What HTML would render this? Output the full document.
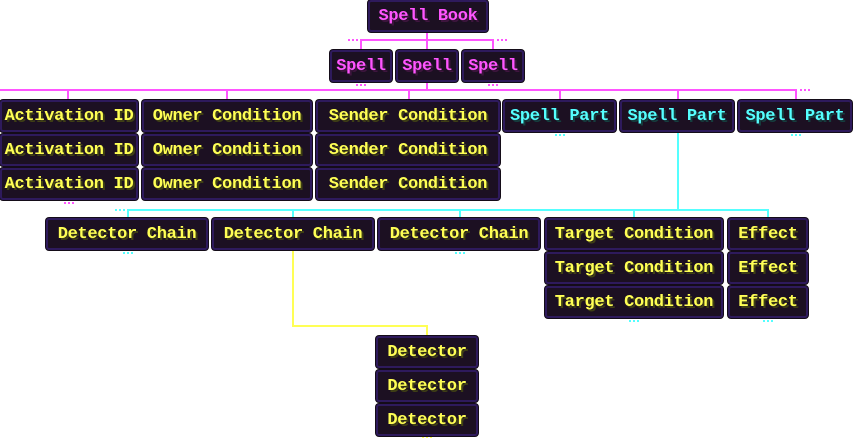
<!DOCTYPE html>
<html><head><meta charset="utf-8"><style>
body{margin:0;width:854px;height:440px;background:#fff;position:relative;overflow:hidden;font-family:"Liberation Mono","DejaVu Sans Mono",monospace;}
.b{position:absolute;box-sizing:border-box;background:#1c1022;border:2px solid #2e1a5c;border-radius:3px;box-shadow:0 0 0 1px #140c18;display:flex;align-items:center;justify-content:center;font-size:17px;font-weight:bold;white-space:nowrap;letter-spacing:-0.3px}
.m{color:#ff55ff;text-shadow:2px 2px 0 #3f153f}
.c{color:#55ffff;text-shadow:2px 2px 0 #153f3f}
.y{color:#ffff55;text-shadow:2px 2px 0 #3f3f15}
.l{position:absolute}
.lm{background:#ff55ff}.lc{background:#55ffff}.ly{background:#ffff55}
.d{position:absolute;height:2px;width:10px;background-image:linear-gradient(90deg,currentColor 0 2px,transparent 2px 4px);background-size:4px 2px}
</style></head><body>
<!-- magenta lines -->
<div class="l lm" style="left:426px;top:32px;width:2px;height:18px"></div>
<div class="l lm" style="left:360px;top:39px;width:134px;height:2px"></div>
<div class="l lm" style="left:360px;top:39px;width:2px;height:11px"></div>
<div class="l lm" style="left:492px;top:39px;width:2px;height:11px"></div>
<div class="d" style="color:#ff55ff;left:348px;top:39px"></div>
<div class="d" style="color:#ff55ff;left:497px;top:39px"></div>
<div class="d" style="color:#ff55ff;left:356px;top:84px"></div>
<div class="d" style="color:#ff55ff;left:488px;top:84px"></div>
<div class="l lm" style="left:426px;top:82px;width:2px;height:8px"></div>
<div class="l lm" style="left:0px;top:89px;width:796px;height:2px"></div>
<div class="d" style="color:#ff55ff;left:800px;top:89px"></div>
<div class="l lm" style="left:67px;top:89px;width:2px;height:11px"></div>
<div class="l lm" style="left:226px;top:89px;width:2px;height:11px"></div>
<div class="l lm" style="left:408px;top:89px;width:2px;height:11px"></div>
<div class="l lm" style="left:559px;top:89px;width:2px;height:11px"></div>
<div class="l lm" style="left:677px;top:89px;width:2px;height:11px"></div>
<div class="l lm" style="left:795px;top:89px;width:2px;height:11px"></div>
<div class="d" style="color:#ff55ff;left:64px;top:202px"></div>
<!-- cyan -->
<div class="d" style="color:#55ffff;left:555px;top:134px"></div>
<div class="d" style="color:#55ffff;left:791px;top:134px"></div>
<div class="l lc" style="left:677px;top:132px;width:2px;height:78px"></div>
<div class="l lc" style="left:127px;top:209px;width:642px;height:2px"></div>
<div class="d" style="color:#55ffff;left:115px;top:209px"></div>
<div class="l lc" style="left:127px;top:209px;width:2px;height:11px"></div>
<div class="l lc" style="left:292px;top:209px;width:2px;height:11px"></div>
<div class="l lc" style="left:459px;top:209px;width:2px;height:11px"></div>
<div class="l lc" style="left:633px;top:209px;width:2px;height:11px"></div>
<div class="l lc" style="left:767px;top:209px;width:2px;height:11px"></div>
<div class="d" style="color:#55ffff;left:123px;top:252px"></div>
<div class="d" style="color:#55ffff;left:455px;top:252px"></div>
<div class="d" style="color:#55ffff;left:629px;top:320px"></div>
<div class="d" style="color:#55ffff;left:763px;top:320px"></div>
<!-- yellow -->
<div class="l ly" style="left:292px;top:250px;width:2px;height:77px"></div>
<div class="l ly" style="left:292px;top:325px;width:136px;height:2px"></div>
<div class="l ly" style="left:426px;top:325px;width:2px;height:11px"></div>
<div class="d" style="color:#ffff55;left:422px;top:436px"></div>

<div class="b m" style="left:368px;top:0;width:120px;height:32px">Spell Book</div>
<div class="b m" style="left:330px;top:50px;width:62px;height:32px">Spell</div>
<div class="b m" style="left:396px;top:50px;width:62px;height:32px">Spell</div>
<div class="b m" style="left:462px;top:50px;width:62px;height:32px">Spell</div>

<div class="b y" style="left:0;top:100px;width:138px;height:32px">Activation ID</div>
<div class="b y" style="left:0;top:134px;width:138px;height:32px">Activation ID</div>
<div class="b y" style="left:0;top:168px;width:138px;height:32px">Activation ID</div>
<div class="b y" style="left:142px;top:100px;width:170px;height:32px">Owner Condition</div>
<div class="b y" style="left:142px;top:134px;width:170px;height:32px">Owner Condition</div>
<div class="b y" style="left:142px;top:168px;width:170px;height:32px">Owner Condition</div>
<div class="b y" style="left:316px;top:100px;width:184px;height:32px">Sender Condition</div>
<div class="b y" style="left:316px;top:134px;width:184px;height:32px">Sender Condition</div>
<div class="b y" style="left:316px;top:168px;width:184px;height:32px">Sender Condition</div>
<div class="b c" style="left:503px;top:100px;width:113px;height:32px">Spell Part</div>
<div class="b c" style="left:620px;top:100px;width:114px;height:32px">Spell Part</div>
<div class="b c" style="left:738px;top:100px;width:114px;height:32px">Spell Part</div>

<div class="b y" style="left:46px;top:218px;width:162px;height:32px">Detector Chain</div>
<div class="b y" style="left:212px;top:218px;width:162px;height:32px">Detector Chain</div>
<div class="b y" style="left:378px;top:218px;width:162px;height:32px">Detector Chain</div>
<div class="b y" style="left:545px;top:218px;width:178px;height:32px">Target Condition</div>
<div class="b y" style="left:545px;top:252px;width:178px;height:32px">Target Condition</div>
<div class="b y" style="left:545px;top:286px;width:178px;height:32px">Target Condition</div>
<div class="b y" style="left:728px;top:218px;width:80px;height:32px">Effect</div>
<div class="b y" style="left:728px;top:252px;width:80px;height:32px">Effect</div>
<div class="b y" style="left:728px;top:286px;width:80px;height:32px">Effect</div>

<div class="b y" style="left:376px;top:336px;width:102px;height:32px">Detector</div>
<div class="b y" style="left:376px;top:370px;width:102px;height:32px">Detector</div>
<div class="b y" style="left:376px;top:404px;width:102px;height:32px">Detector</div>
</body></html>
